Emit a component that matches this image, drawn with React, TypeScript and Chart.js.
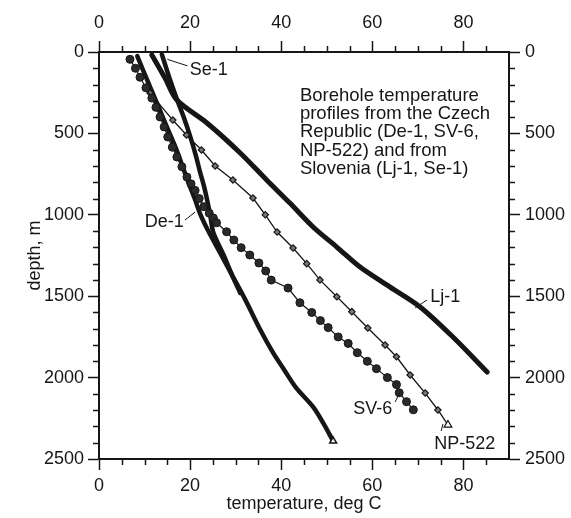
import React, { useEffect, useRef } from "react";
import { Chart, registerables } from "chart.js";
Chart.register(...registerables);

// ---- axes ----
const xTicks = [0, 20, 40, 60, 80];
const yTicks = [0, 500, 1000, 1500, 2000, 2500];
const xMin = 0, xMax = 90, xMinorStep = 5;
const yMin = 0, yMax = 2500, yMinorStep = 100;

// ---- series (temperature in deg C, depth in m) ----
const sv6Temp = [6.8, 8.0, 9.0, 10.3, 11.6, 12.5, 13.4, 14.3, 15.1, 16.1, 17.1, 18.2, 19.3, 20.2, 21.1, 22.0, 23.0, 24.2, 25.1, 25.8, 28.0, 29.6, 31.2, 33.1, 35.1, 36.6, 37.8, 41.5, 44.1, 46.7, 48.6, 50.3, 52.5, 54.7, 56.7, 58.9, 60.9, 63.3, 65.3, 65.9, 67.5, 69.0];
const sv6Depth = [45, 100, 155, 220, 283, 340, 399, 460, 522, 585, 645, 705, 768, 810, 850, 900, 950, 990, 1020, 1049, 1104, 1155, 1202, 1247, 1296, 1345, 1401, 1450, 1540, 1600, 1650, 1693, 1750, 1790, 1847, 1900, 1945, 2000, 2043, 2093, 2148, 2198];

const de1Temp = [8.4, 9.5, 11.0, 12.5, 14.0, 15.5, 17.0, 18.3, 19.6, 21.0, 22.3, 24.0, 26.6, 29.0, 32.1, 35.4, 38.2, 40.6, 43.2, 47.0, 49.2, 51.4];
const de1Depth = [25, 100, 200, 300, 400, 500, 600, 700, 800, 900, 1000, 1100, 1235, 1360, 1521, 1706, 1847, 1950, 2060, 2180, 2278, 2390];

const se1Temp = [13.8, 15.0, 16.2, 17.1, 18.6, 20.0, 21.2, 22.2, 23.1, 23.7, 24.4, 25.1, 27.3, 29.2, 31.0];
const se1Depth = [15, 120, 220, 290, 400, 517, 630, 739, 830, 905, 1000, 1108, 1244, 1370, 1480];

const lj1Temp = [11.6, 14.5, 17.1, 23.7, 31.0, 36.8, 41.9, 47.0, 52.2, 57.3, 63.9, 70.5, 77.7, 85.2];
const lj1Depth = [18, 160, 295, 436, 620, 786, 928, 1075, 1198, 1321, 1444, 1566, 1751, 1966];

const np522Temp = [11.2, 16.2, 19.2, 22.5, 25.5, 29.4, 33.8, 36.5, 39.1, 42.6, 45.6, 48.5, 52.2, 55.5, 59.0, 62.8, 65.3, 68.3, 71.6, 74.4, 76.6];
const np522Depth = [252, 418, 510, 602, 700, 786, 897, 1000, 1106, 1204, 1300, 1400, 1503, 1595, 1695, 1800, 1872, 1984, 2095, 2199, 2291];

// ---- text ----
const xTitle = "temperature, deg C";
const yTitle = "depth, m";
const noteLines = [
  "Borehole temperature",
  "profiles from the Czech",
  "Republic (De-1, SV-6,",
  "NP-522) and from",
  "Slovenia (Lj-1, Se-1)",
];
const curveNames = ["Se-1", "De-1", "Lj-1", "SV-6", "NP-522"];
// label anchor (temperature, depth) and leader line ends
const labelAt: [number, number][] = [[24.1, 111], [14.3, 1044], [76.0, 1505], [60.1, 2193], [80.3, 2405]];
const leaderFrom: [number, number][] = [[19.4, 85], [18.9, 1032], [72.0, 1523], [65.0, 2150], [75.1, 2328]];
const leaderTo: [number, number][] = [[15.0, 45], [21.1, 983], [69.4, 1572], [66.1, 2089], [75.5, 2285]];
const noteAt: [number, number] = [44.1, 270];

const INK = "#161616";
const FONT = "'Liberation Sans', Arial, Helvetica, sans-serif";

const pts = (t: number[], d: number[]) => t.map((v, i) => ({ x: v, y: d[i] }));

const overlay = {
  id: "overlay",
  afterDraw(chart: any) {
    const ctx = chart.ctx as CanvasRenderingContext2D;
    const xs = chart.scales.x;
    const ys = chart.scales.y;
    const { left, right, top, bottom } = chart.chartArea;
    ctx.save();
    ctx.strokeStyle = INK;
    ctx.lineWidth = 1.5;
    ctx.beginPath();
    for (let v = xMin; v <= xMax; v += xMinorStep) {
      if (xTicks.includes(v) || v === xMax) continue;
      const px = Math.round(xs.getPixelForValue(v)) + 0.5;
      ctx.moveTo(px, bottom);
      ctx.lineTo(px, bottom + 6);
      ctx.moveTo(px, top);
      ctx.lineTo(px, top - 6);
    }
    for (let v = yMin; v <= yMax; v += yMinorStep) {
      if (yTicks.includes(v)) continue;
      const py = Math.round(ys.getPixelForValue(v)) + 0.5;
      ctx.moveTo(left, py);
      ctx.lineTo(left - 6, py);
      ctx.moveTo(right, py);
      ctx.lineTo(right + 6, py);
    }
    ctx.stroke();

    // leaders
    ctx.lineWidth = 1;
    ctx.beginPath();
    leaderFrom.forEach((f, i) => {
      const t = leaderTo[i];
      ctx.moveTo(xs.getPixelForValue(f[0]), ys.getPixelForValue(f[1]));
      ctx.lineTo(xs.getPixelForValue(t[0]), ys.getPixelForValue(t[1]));
    });
    ctx.stroke();

    ctx.fillStyle = INK;
    ctx.font = `18px ${FONT}`;
    ctx.textAlign = "center";
    ctx.textBaseline = "middle";
    curveNames.forEach((n, i) => {
      ctx.fillText(n, xs.getPixelForValue(labelAt[i][0]), ys.getPixelForValue(labelAt[i][1]));
    });

    ctx.textAlign = "left";
    ctx.font = `18.5px ${FONT}`;
    const nx = xs.getPixelForValue(noteAt[0]);
    const ny = ys.getPixelForValue(noteAt[1]);
    noteLines.forEach((l, i) => ctx.fillText(l, nx, ny + i * 18.2));
    ctx.restore();
  },
};

export default function App() {
  const ref = useRef<HTMLCanvasElement | null>(null);
  useEffect(() => {
    if (!ref.current) return;
    const tickFont = { family: FONT, size: 18 };
    const setTicks = (vals: number[]) => (s: any) => {
      s.ticks = vals.map((v) => ({ value: v }));
    };
    const fmt = (v: any) => String(v);
    const grid = { drawOnChartArea: false, drawTicks: true, tickLength: 11, tickWidth: 1.5, tickColor: INK };
    const border = { display: true, width: 2, color: INK };
    const last = (n: number) => (c: any) => (c.dataIndex === n - 1 ? 4 : 0);

    const chart = new Chart(ref.current, {
      type: "scatter",
      data: {
        datasets: [
          {
            label: "SV-6",
            data: pts(sv6Temp, sv6Depth),
            showLine: true,
            borderColor: INK,
            borderWidth: 1.2,
            pointRadius: 4,
            pointStyle: "circle",
            pointBackgroundColor: "#2a2a2a",
            pointBorderColor: INK,
            pointBorderWidth: 1,
          },
          {
            label: "NP-522",
            data: pts(np522Temp, np522Depth),
            showLine: true,
            borderColor: INK,
            borderWidth: 1.3,
            pointRadius: (c: any) => (c.dataIndex === np522Temp.length - 1 ? 4.5 : 3.2),
            pointStyle: (c: any) => (c.dataIndex === np522Temp.length - 1 ? "triangle" : "rectRot"),
            pointBackgroundColor: (c: any) => (c.dataIndex === np522Temp.length - 1 ? "#ffffff" : "#7a7a7a"),
            pointBorderColor: INK,
            pointBorderWidth: 1.2,
          },
          {
            label: "De-1",
            data: pts(de1Temp, de1Depth),
            showLine: true,
            borderColor: INK,
            borderWidth: 4.5,
            borderCapStyle: "round",
            tension: 0.3,
            pointRadius: last(de1Temp.length),
            pointStyle: "triangle",
            pointBackgroundColor: "#ffffff",
            pointBorderColor: INK,
            pointBorderWidth: 1.5,
          },
          {
            label: "Se-1",
            data: pts(se1Temp, se1Depth),
            showLine: true,
            borderColor: INK,
            borderWidth: 4.5,
            borderCapStyle: "round",
            tension: 0.3,
            pointRadius: 0,
          },
          {
            label: "Lj-1",
            data: pts(lj1Temp, lj1Depth),
            showLine: true,
            borderColor: INK,
            borderWidth: 5,
            borderCapStyle: "round",
            tension: 0.3,
            pointRadius: 0,
          },
        ],
      },
      options: {
        responsive: false,
        animation: false,
        layout: { padding: 0 },
        plugins: { legend: { display: false }, tooltip: { enabled: false } },
        scales: {
          x: {
            type: "linear",
            position: "bottom",
            min: xMin,
            max: xMax,
            afterBuildTicks: setTicks(xTicks),
            afterFit: (s: any) => { s.height = 59; },
            ticks: { font: tickFont, color: INK, padding: 5, maxRotation: 0, autoSkip: false, callback: fmt },
            grid,
            border,
            title: { display: true, text: xTitle, font: tickFont, color: INK, padding: { top: 0, bottom: 3 } },
          },
          x2: {
            type: "linear",
            position: "top",
            min: xMin,
            max: xMax,
            afterBuildTicks: setTicks(xTicks),
            afterFit: (s: any) => { s.height = 52; },
            ticks: { font: tickFont, color: INK, padding: 7, maxRotation: 0, autoSkip: false, callback: fmt },
            grid,
            border,
          },
          y: {
            type: "linear",
            position: "left",
            reverse: true,
            min: yMin,
            max: yMax,
            afterBuildTicks: setTicks(yTicks),
            afterFit: (s: any) => { s.width = 99; },
            ticks: { font: tickFont, color: INK, padding: 4, autoSkip: false, callback: fmt },
            grid,
            border,
            title: { display: true, text: yTitle, font: tickFont, color: INK, padding: { top: 24, bottom: 0 } },
          },
          y2: {
            type: "linear",
            position: "right",
            reverse: true,
            min: yMin,
            max: yMax,
            afterBuildTicks: setTicks(yTicks),
            afterFit: (s: any) => { s.width = 62; },
            ticks: { font: tickFont, color: INK, padding: 5, autoSkip: false, callback: fmt },
            grid,
            border,
          },
        },
      },
      plugins: [overlay],
    } as any);
    return () => chart.destroy();
  }, []);
  return (
    <div style={{ position: "fixed", left: 0, top: 0, width: 571, height: 518, background: "#fff" }}>
      <canvas ref={ref} width={571} height={518} style={{ display: "block" }} />
    </div>
  );
}
